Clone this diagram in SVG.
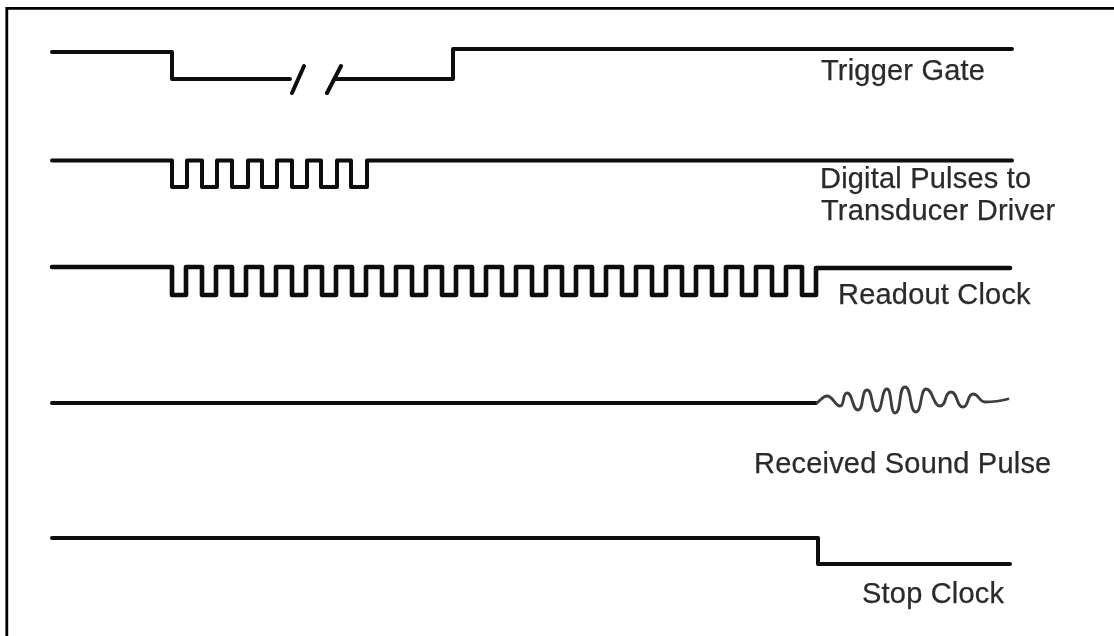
<svg xmlns="http://www.w3.org/2000/svg" width="1114" height="636" viewBox="0 0 1114 636">
<defs><filter id="soft" x="0" y="0" width="100%" height="100%" filterUnits="userSpaceOnUse"><feGaussianBlur stdDeviation="0.45"/></filter></defs>
<style>
.sig{fill:none;stroke:#0d0d0d;stroke-width:4;stroke-linejoin:round;stroke-linecap:round}
.thick{stroke-width:4.6}
.wave{fill:none;stroke:#3c3c3c;stroke-width:2.8;stroke-linecap:round}
text{font-family:"Liberation Sans",Arial,sans-serif;font-size:29px;letter-spacing:.2px;fill:#2b2b2b;stroke:#2b2b2b;stroke-width:.25}
</style>
<rect width="1114" height="636" fill="#fff"/>
<g filter="url(#soft)">
<path id="frame" d="M6.800 636V8.300H1114" fill="none" stroke="#000" stroke-width="2.800"/>
<g id="connectors">
<path class="sig" d="M52 52H172V79H290M292 93L304 66M327 93L341 66M334 79H453V49H1012"/>
<path class="sig" d="M52 160.500H172V187H187V160.500H202V187H217V160.500H232V187H248V160.500H262V187H277V160.500H292V187H307V160.500H321V187H337V160.500H351V187H367V160.500H1012"/>
<path class="sig thick" d="M52 267H172V295H186V267H202V295H216V267H232V295H246V267H262V295H276V267H292V295H306V267H322V295H336V267H352V295H366V267H382V295H396V267H412V295H426V267H442V295H456V267H472V295H486V267H502V295H516V267H532V295H546V267H562V295H576V267H592V295H606V267H622V295H636V267H652V295H666V267H682V295H696V267H712V295H726V267H742V295H756V267H772V295H786V267H802V295H816V268H1010"/>
<path class="sig" d="M52 403H816"/>
<path class="wave" d="M817 403C821 400 823 396 827 396C833 396 835 406 840 406C845 406 842 393 847 393C853 393 852 410 858 410C864 410 861 390 867 390C873 390 871 411 877 411C883 411 881 389 887 389C892 389 890 413 895 413C902 413 898 387 905 387C912 387 909 412 916 412C922 412 920 389 926 389C933 389 933 406 940 406C947 406 944 392 951 392C958 392 956 407 963 407C969 407 967 394 973 394C979 394 979 402 985 402C993 402 1001 401 1008 399"/>
<path class="sig" d="M52 538H818V564H1010"/>
</g>
<g id="trigger-gate"><text x="821" y="80">Trigger Gate</text></g>
<g id="digital-pulses"><text x="820" y="188">Digital Pulses to</text><text x="821" y="220">Transducer Driver</text></g>
<g id="readout-clock"><text x="838" y="304">Readout Clock</text></g>
<g id="received-sound-pulse"><text x="754" y="473">Received Sound Pulse</text></g>
<g id="stop-clock"><text x="862" y="603">Stop Clock</text></g>
</g>
</svg>
